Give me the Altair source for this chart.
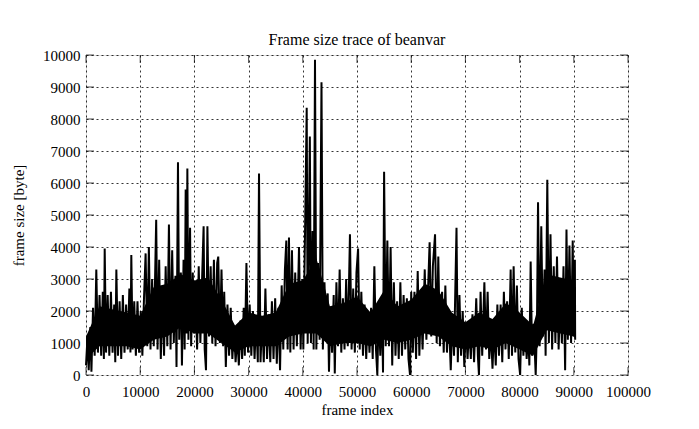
import altair as alt
import pandas as pd

# Frame index / frame size (bytes)
frames_0 = [0, 250, 500, 800, 1000, 1300, 1600, 1900, 2200, 2500, 2800, 3100, 3300, 3450, 3700, 4000, 4300, 4600, 4900, 5200, 5400, 5600, 5900, 6200, 6500, 6800, 7100, 7400, 7700, 8000, 8200, 8360, 8600, 8900, 9200, 9500, 9800]
sizes_0 = [300, 1100, 150, 1500, 100, 2100, 600, 3300, 700, 2500, 600, 2600, 500, 3950, 700, 2500, 600, 2600, 700, 2200, 400, 3300, 600, 2300, 500, 2500, 700, 2200, 800, 2700, 700, 3750, 800, 2300, 600, 2300, 700]

frames_1 = [10100, 10400, 10700, 11000, 11300, 11600, 11900, 12200, 12500, 12950, 13200, 13500, 13800, 14100, 14400, 14700, 15000, 15300, 15600, 15900, 16200, 16500, 16700, 16970, 17200, 17500, 17700, 18000, 18200, 18390, 18550, 18700, 18900, 19200, 19400, 19700, 19900]
sizes_1 = [2000, 600, 2400, 3800, 900, 4000, 800, 3000, 900, 4850, 800, 3600, 500, 2500, 600, 3400, 900, 4700, 800, 3900, 1000, 3100, 250, 6650, 1100, 3200, 300, 3600, 800, 5800, 1300, 6450, 1100, 4600, 900, 3200, 1300]

frames_2 = [20200, 20500, 20800, 21100, 21400, 21700, 21900, 22140, 22400, 22700, 23000, 23300, 23600, 23900, 24200, 24400, 24700, 25000, 25300, 25500, 25800, 26100, 26400, 26700, 27000, 27300, 27600, 27900, 28200, 28500, 28800, 29100, 29300, 29600, 29900]
sizes_2 = [2500, 800, 3400, 1000, 2900, 4650, 800, 150, 4650, 1200, 3400, 1000, 3600, 900, 3500, 3700, 1000, 3300, 900, 2600, 250, 2200, 600, 2100, 500, 1500, 400, 1200, 300, 1700, 500, 2100, 600, 3500, 700]

frames_3 = [30200, 30500, 30800, 31100, 31400, 31700, 31920, 32200, 32500, 32800, 33100, 33400, 33700, 34000, 34300, 34600, 34900, 35200, 35500, 35800, 36100, 36400, 36700, 36960, 37200, 37450, 37700, 38000, 38300, 38600, 38900, 39300, 39600, 39900]
sizes_3 = [2200, 600, 2000, 500, 1800, 400, 6300, 400, 1800, 400, 2700, 500, 1900, 400, 2300, 500, 2400, 350, 2100, 150, 2800, 800, 3300, 4200, 800, 4300, 700, 3900, 800, 3200, 900, 4000, 800, 3000]

frames_4 = [40100, 40400, 40720, 40900, 41300, 41500, 41800, 42000, 42250, 42500, 42800, 43100, 43450, 43700, 44000, 44300, 44600, 44830, 45100, 45400, 45700, 45900, 46200, 46500, 46800, 47100, 47400, 47700, 48000, 48300, 48700, 49000, 49300, 49600, 49900]
sizes_4 = [800, 4300, 8350, 1000, 7450, 1000, 4500, 800, 9850, 800, 3500, 1100, 9150, 800, 2900, 1200, 2550, 100, 2100, 700, 2500, 50, 2900, 900, 3300, 700, 2400, 800, 3000, 900, 4400, 800, 2700, 700, 3200]

frames_5 = [50200, 50500, 50800, 51100, 51400, 51700, 52000, 52300, 52600, 52900, 53200, 53500, 53750, 54000, 54300, 54600, 54800, 55000, 55300, 55600, 55900, 56200, 56500, 56800, 57100, 57400, 57700, 58000, 58300, 58600, 58900, 59200, 59500, 59780]
sizes_5 = [3950, 800, 2600, 600, 2200, 500, 2000, 700, 2100, 500, 3400, 800, 0, 2000, 600, 2100, 80, 6350, 900, 4200, 900, 4000, 300, 2900, 600, 2300, 500, 2900, 600, 2500, 800, 2400, 500, 0]

frames_6 = [60000, 60300, 60600, 60900, 61200, 61500, 61800, 62100, 62500, 62800, 63400, 63700, 64000, 64400, 64700, 65000, 65300, 65700, 66000, 66300, 66600, 66900, 67300, 67600, 67900, 68360, 68600, 68900, 69200, 69500, 69800]
sizes_6 = [2600, 700, 2600, 500, 3250, 600, 2300, 800, 3300, 1100, 4150, 1200, 3400, 4400, 1000, 3700, 900, 2600, 700, 2800, 700, 2000, 150, 1900, 600, 4600, 400, 2500, 600, 2000, 250]

frames_7 = [70100, 70400, 70700, 71000, 71300, 71600, 72000, 72300, 72500, 72800, 73100, 73500, 73800, 74100, 74400, 74700, 75000, 75300, 75600, 75900, 76200, 76500, 76800, 77100, 77400, 77700, 78000, 78350, 78600, 78900, 79200, 79500, 79800]
sizes_7 = [1600, 500, 1600, 500, 1900, 400, 2400, 600, 0, 2600, 600, 2900, 800, 2600, 500, 1400, 200, 1500, 300, 2200, 600, 2200, 400, 2600, 800, 2300, 500, 3300, 600, 3400, 700, 2800, 500]

frames_8 = [80100, 80400, 80700, 81000, 81300, 81600, 81800, 82040, 82300, 82600, 82970, 83200, 83400, 83700, 84000, 84300, 84600, 84800, 85110, 85400, 85700, 86000, 86300, 86600, 86900, 87200, 87500, 87800, 88100, 88400, 88650, 88900, 89200, 89500, 89800, 90000, 90200, 90250]
sizes_8 = [0, 2100, 600, 1700, 500, 1300, 300, 3550, 600, 1600, 0, 1500, 5400, 900, 4650, 1200, 3300, 600, 6100, 1000, 4400, 800, 3400, 1000, 3700, 800, 2600, 1000, 3400, 150, 4550, 1100, 4050, 1000, 4200, 1200, 3600, 1100]

# Solid dense core of the trace (where the black band is fully filled)
core_frames = [0, 2500, 5000, 7500, 10000, 12500, 15000, 17500, 20000, 22500, 25000, 27500, 30000, 32500, 35000, 37500, 40000, 42500, 45000, 47500, 50000, 52500, 55000, 57500, 60000, 62500, 65000, 67500, 70000, 72500, 75000, 77500, 80000, 82500, 85000, 87500, 90000]
core_low = [500, 900, 900, 900, 800, 1100, 1200, 1500, 1300, 1300, 1000, 700, 900, 900, 900, 1200, 1300, 1300, 900, 1000, 1000, 900, 1100, 1000, 1100, 1300, 1200, 900, 800, 900, 800, 1000, 800, 600, 1400, 1300, 1200]
core_high = [1200, 2150, 2050, 1950, 1850, 2750, 2850, 3150, 2950, 3050, 2350, 1550, 1950, 1850, 1950, 2850, 2950, 3650, 2150, 2250, 2450, 1950, 2650, 2150, 2350, 2850, 2650, 1950, 1650, 1950, 1750, 2250, 1950, 1550, 3150, 3050, 2950]

x_ticks = [0, 10000, 20000, 30000, 40000, 50000, 60000, 70000, 80000, 90000, 100000]
y_ticks = [0, 1000, 2000, 3000, 4000, 5000, 6000, 7000, 8000, 9000, 10000]

frames = frames_0 + frames_1 + frames_2 + frames_3 + frames_4 + frames_5 + frames_6 + frames_7 + frames_8
sizes = sizes_0 + sizes_1 + sizes_2 + sizes_3 + sizes_4 + sizes_5 + sizes_6 + sizes_7 + sizes_8
df = pd.DataFrame({"frame": frames, "size": sizes})
core = pd.DataFrame({"frame": core_frames, "lo": core_low, "hi": core_high})

FONT = "Liberation Serif"
W, H = 542, 320
XT, YT = "frame index", "frame size [byte]"

xscale = alt.Scale(domain=[0, 100000], nice=False)
yscale = alt.Scale(domain=[0, 10000], nice=False)

xaxis = alt.Axis(values=x_ticks, grid=True, gridColor="black", gridDash=[2, 3],
                 gridWidth=0.8, gridOpacity=1, ticks=False, domain=False,
                 labelFont=FONT, labelFontSize=15, labelColor="black",
                 labelPadding=9, titleFont=FONT, titleFontSize=15,
                 titleFontWeight="normal", titleColor="black", titlePadding=3,
                 labelFlush=False, labelOverlap=False, format="d")
yaxis = alt.Axis(values=y_ticks, grid=True, gridColor="black", gridDash=[2, 3],
                 gridWidth=0.8, gridOpacity=1, ticks=False, domain=False,
                 labelFont=FONT, labelFontSize=15, labelColor="black",
                 labelPadding=6, titleFont=FONT, titleFontSize=15,
                 titleFontWeight="normal", titleColor="black", titlePadding=16,
                 labelFlush=False, labelOverlap=False, format="d")

line = alt.Chart(df).mark_line(color="black", strokeWidth=2, strokeJoin="miter").encode(
    x=alt.X("frame:Q", scale=xscale, title=XT, axis=xaxis),
    y=alt.Y("size:Q", scale=yscale, title=YT, axis=yaxis),
)

band = alt.Chart(core).mark_area(color="black", opacity=1).encode(
    x=alt.X("frame:Q", scale=xscale, title=XT, axis=xaxis),
    y=alt.Y("lo:Q", scale=yscale, title=YT, axis=yaxis),
    y2="hi:Q",
)

xt = pd.DataFrame({"t": x_ticks})
yt = pd.DataFrame({"t": y_ticks})

xtick_b = alt.Chart(xt).mark_tick(color="black", size=8, thickness=1, orient="vertical").encode(
    x=alt.X("t:Q", scale=xscale, title=XT, axis=xaxis), y=alt.value(H - 4))
xtick_t = alt.Chart(xt).mark_tick(color="black", size=8, thickness=1, orient="vertical").encode(
    x=alt.X("t:Q", scale=xscale, title=XT, axis=xaxis), y=alt.value(4))
ytick_l = alt.Chart(yt).mark_tick(color="black", size=8, thickness=1, orient="horizontal").encode(
    y=alt.Y("t:Q", scale=yscale, title=YT, axis=yaxis), x=alt.value(4))
ytick_r = alt.Chart(yt).mark_tick(color="black", size=8, thickness=1, orient="horizontal").encode(
    y=alt.Y("t:Q", scale=yscale, title=YT, axis=yaxis), x=alt.value(W - 4))

chart = alt.layer(line, band, xtick_b, xtick_t, ytick_l, ytick_r).properties(
    width=W, height=H,
    title=alt.Title("Frame size trace of beanvar", font=FONT, fontSize=16,
                    fontWeight="normal", color="black", offset=0),
    autosize=alt.AutoSizeParams(type="none"),
    padding={"left": 78, "top": 47, "right": 60, "bottom": 45},
).configure_view(stroke="black", strokeWidth=1.2).configure(background="white")

chart.save("out.html", embed_options={"renderer": "svg", "actions": False})
